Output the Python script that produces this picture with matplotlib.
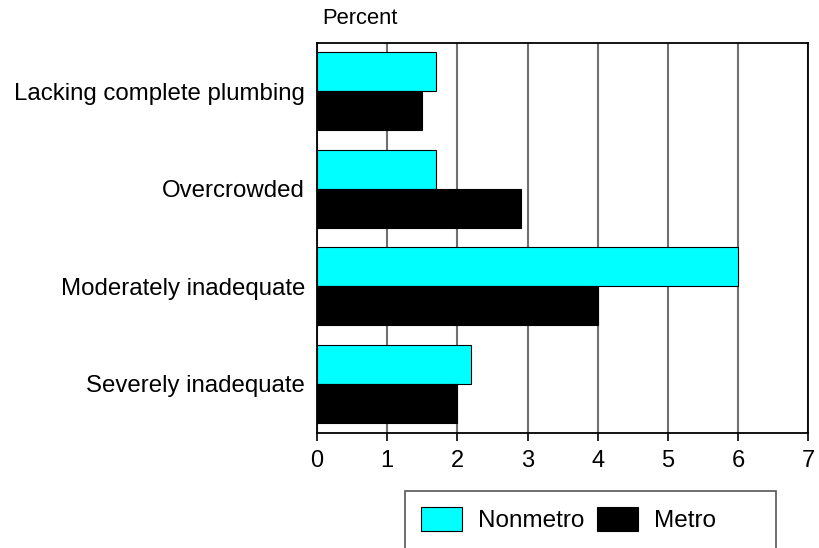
import matplotlib
matplotlib.use("Agg")
import matplotlib.pyplot as plt
from matplotlib.patches import Rectangle

plt.rcParams['font.family'] = ['Liberation Sans', 'DejaVu Sans']

categories = ["Lacking complete plumbing", "Overcrowded",
              "Moderately inadequate", "Severely inadequate"]
nonmetro = [1.7, 1.7, 6.0, 2.2]
metro = [1.5, 2.9, 4.0, 2.0]
xticks = [0, 1, 2, 3, 4, 5, 6, 7]

W, H = 819, 548
fig = plt.figure(figsize=(W / 100, H / 100), dpi=100)
ax = fig.add_axes([317 / W, 1 - 432.5 / H, (808.3 - 317) / W, (432.5 - 42.7) / H])

pos = list(range(len(categories)))
bh = 0.4
ax.barh([p - bh / 2 for p in pos], nonmetro, height=bh, color='#00FFFF',
        edgecolor='black', linewidth=0.8, label='Nonmetro', zorder=3)
ax.barh([p + bh / 2 for p in pos], metro, height=bh, color='black',
        edgecolor='black', linewidth=0.8, label='Metro', zorder=3)

ax.set_ylim(3.5, -0.5)
ax.set_xlim(0, 7)
ax.set_yticks(pos)
ax.set_yticklabels(categories, fontsize=17.3)
ax.set_xticks(xticks)
ax.set_xticklabels([str(t) for t in xticks], fontsize=17)
ax.tick_params(axis='y', length=0, pad=8.5)
ax.tick_params(axis='x', direction='out', length=6, width=1.2, pad=6.5)
ax.grid(axis='x', color='#707070', linewidth=1.5, zorder=0)
for s in ax.spines.values():
    s.set_linewidth(1.3)
    s.set_color('black')

fig.text(322 / W, 1 - 18 / H, "Percent", fontsize=15.8, ha='left', va='center')

# legend frame
fig.patches.append(Rectangle((405 / W, -0.02), (776 - 405) / W, (548 - 491) / H + 0.02,
                             transform=fig.transFigure, fill=False,
                             edgecolor='#555555', linewidth=1.2))
h, l = ax.get_legend_handles_labels()
fig.legend(h, l, loc='upper left', bbox_to_anchor=(421 / W, 1 - 507 / H),
           ncol=2, frameon=False, borderpad=0, borderaxespad=0,
           fontsize=17.5, handlelength=1.69, handleheight=1.15,
           handletextpad=0.66, columnspacing=0.53)

fig.savefig("out.png", dpi=100)
